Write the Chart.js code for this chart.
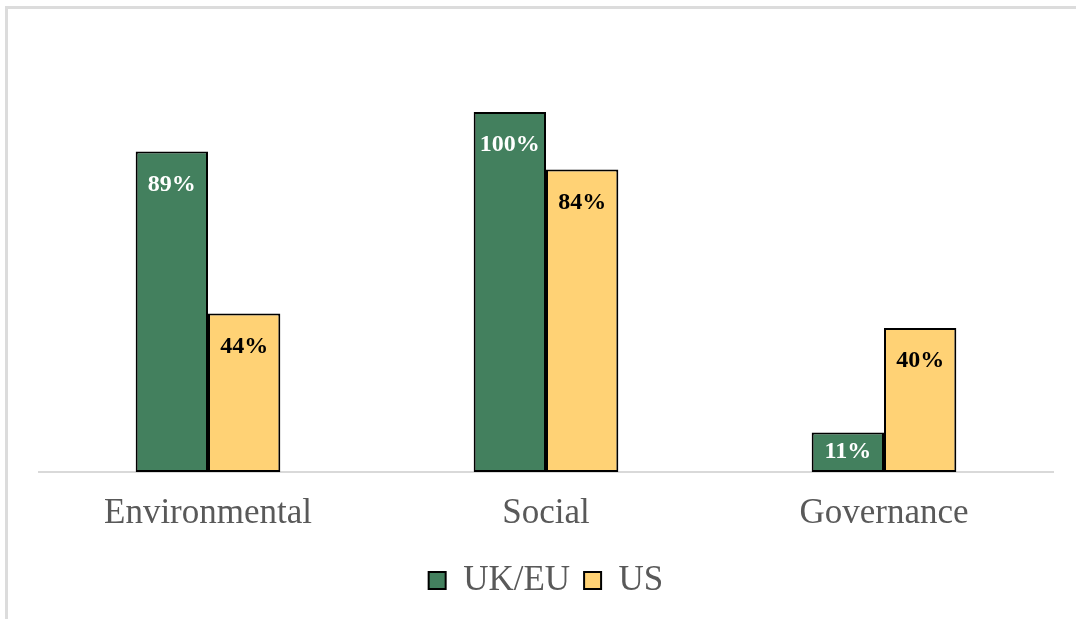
<!DOCTYPE html>
<html>
<head>
<meta charset="utf-8">
<script src="https://cdn.jsdelivr.net/npm/chart.js@4/dist/chart.umd.min.js"></script>
<style>
  html, body { margin: 0; padding: 0; background: #ffffff; }
  #wrap { position: relative; width: 1076px; height: 619px; overflow: hidden; }
  #frame { position: absolute; left: 5px; top: 6px; width: 1100px; height: 700px;
           border-left: 3px solid #dcdcdc; border-top: 3px solid #dcdcdc; }
  canvas { position: absolute; left: 0; top: 0; }
</style>
</head>
<body>
<div id="wrap">
  <div id="frame"></div>
  <canvas id="chart" width="1076" height="619"></canvas>
</div>
<script>
// categories and series
const categories = ["Environmental", "Social", "Governance"];
const ukEuValues = [89, 100, 11];
const usValues = [44, 84, 40];

const green = "#43805e";
const yellow = "#ffd275";
const serif = "'Liberation Serif', 'Times New Roman', serif";

// draws the percent labels inside the top of each bar
const barLabels = {
    id: "barLabels",
    afterDatasetsDraw(chart) {
        const ctx = chart.ctx;
        ctx.save();
        ctx.font = "bold 24px " + serif;
        ctx.textAlign = "center";
        ctx.textBaseline = "middle";
        chart.data.datasets.forEach((ds, di) => {
            const meta = chart.getDatasetMeta(di);
            meta.data.forEach((bar, i) => {
                const mid = (bar.y + bar.base) / 2;
                const y = Math.min(bar.y + 33, mid);
                ctx.fillStyle = di === 0 ? "#ffffff" : "#000000";
                ctx.fillText(ds.data[i] + "%", bar.x, y);
            });
        });
        ctx.restore();
    }
};

const wheel = document.getElementById("chart");
const myChart = new Chart(wheel, {
    type: "bar",
    plugins: [barLabels],
    data: {
        labels: categories,
        datasets: [
            {
                label: "UK/EU",
                data: ukEuValues,
                backgroundColor: green,
                borderColor: "#000000",
                borderWidth: 2,
                borderSkipped: false
            },
            {
                label: "US",
                data: usValues,
                backgroundColor: yellow,
                borderColor: "#000000",
                borderWidth: 2,
                borderSkipped: false
            }
        ]
    },
    options: {
        responsive: false,
        animation: false,
        layout: { padding: { left: 39, right: 23, top: 76, bottom: 11 } },
        datasets: {
            bar: { categoryPercentage: 0.428, barPercentage: 1.0 }
        },
        scales: {
            x: {
                grid: { display: false, drawTicks: false },
                border: { display: true, color: "#d9d9d9", width: 2 },
                ticks: {
                    color: "#595959",
                    padding: 21,
                    font: { family: serif, size: 35 }
                },
                afterFit(scale) {
                    scale.height -= 7;
                }
            },
            y: {
                display: false,
                min: 0,
                max: 110
            }
        },
        plugins: {
            tooltip: { enabled: false },
            legend: {
                position: "bottom",
                labels: {
                    color: "#595959",
                    boxWidth: 17,
                    boxHeight: 17,
                    padding: 14,
                    font: { family: serif, size: 35 }
                }
            }
        }
    }
});
</script>
</body>
</html>
